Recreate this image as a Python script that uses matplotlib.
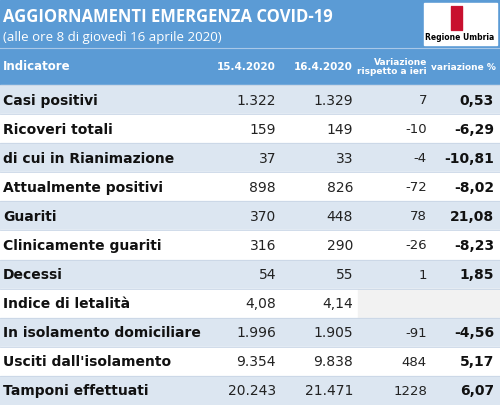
import matplotlib.pyplot as plt
from matplotlib.patches import Rectangle

indicatori = ["Casi positivi", "Ricoveri totali", "di cui in Rianimazione", "Attualmente positivi",
              "Guariti", "Clinicamente guariti", "Decessi", "Indice di letalità",
              "In isolamento domiciliare", "Usciti dall'isolamento", "Tamponi effettuati"]
val_15 = ["1.322", "159", "37", "898", "370", "316", "54", "4,08", "1.996", "9.354", "20.243"]
val_16 = ["1.329", "149", "33", "826", "448", "290", "55", "4,14", "1.905", "9.838", "21.471"]
variaz = ["7", "-10", "-4", "-72", "78", "-26", "1", "", "-91", "484", "1228"]
variaz_pct = ["0,53", "-6,29", "-10,81", "-8,02", "21,08", "-8,23", "1,85", "", "-4,56", "5,17", "6,07"]
headers = ["Indicatore", "15.4.2020", "16.4.2020", "Variazione\nrispetto a ieri", "variazione %"]

W, H = 500, 405
fig = plt.figure(figsize=(W/100, H/100), dpi=100)
ax = fig.add_axes([0, 0, 1, 1])
ax.set_xlim(0, W); ax.set_ylim(H, 0); ax.axis("off")
fig.patch.set_facecolor("white")

blue = "#5b9bd5"; light = "#dce6f1"
ax.add_patch(Rectangle((0, 0), W, 85, color=blue))
ax.plot([0, W], [48, 48], color="#a9c8e8", lw=0.8)
ax.text(3, 17, "AGGIORNAMENTI EMERGENZA COVID-19", color="white", fontsize=12, fontweight="bold",
        va="center", family="Open Sans")
ax.text(3, 37, "(alle ore 8 di giovedì 16 aprile 2020)", color="white", fontsize=9.5, va="center", family="Open Sans")
# logo
ax.add_patch(Rectangle((424, 3), 73, 42, color="white"))
for i in range(6):
    ax.add_patch(Rectangle((451 + i*2.0, 6), 1.1, 24, color="#c8102e"))
ax.text(460, 37, "Regione Umbria", fontsize=5.5, fontweight="bold", ha="center", va="center")

hy = 67
ax.text(3, hy, headers[0], color="white", fontsize=8.5, fontweight="bold", va="center")
ax.text(276, hy, headers[1], color="white", fontsize=7.5, fontweight="bold", va="center", ha="right")
ax.text(353, hy, headers[2], color="white", fontsize=7.5, fontweight="bold", va="center", ha="right")
ax.text(427, hy, headers[3], color="white", fontsize=6.5, fontweight="bold", va="center", ha="right", linespacing=1.1)
ax.text(496, hy, headers[4], color="white", fontsize=6.5, fontweight="bold", va="center", ha="right")

y0, rh = 85, (H - 85) / len(indicatori)
for i, name in enumerate(indicatori):
    top = y0 + i * rh
    fc = light if i % 2 == 0 else "white"
    ax.add_patch(Rectangle((0, top), W, rh, color=fc))
    if variaz[i] == "":
        ax.add_patch(Rectangle((358, top), W - 358, rh, color="#f2f2f2"))
    ax.plot([0, W], [top, top], color="#c9d6e6", lw=0.6)
    cy = top + rh / 2 + 1
    ax.text(3, cy, name, fontsize=10, fontweight="bold", va="center", color="#111111")
    ax.text(276, cy, val_15[i], fontsize=10, va="center", ha="right", color="#222222")
    ax.text(353, cy, val_16[i], fontsize=10, va="center", ha="right", color="#222222")
    ax.text(427, cy, variaz[i], fontsize=9.5, va="center", ha="right", color="#222222")
    ax.text(494, cy, variaz_pct[i], fontsize=10, fontweight="bold", va="center", ha="right", color="#111111")

fig.savefig("out.png", dpi=100)
